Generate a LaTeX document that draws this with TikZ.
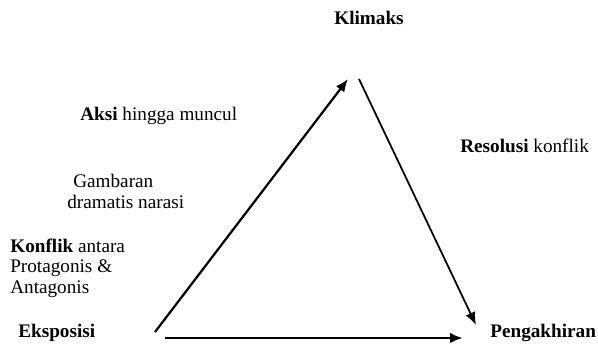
\documentclass[tikz,border=0pt]{standalone}
\usepackage{fontspec}
\setmainfont{Liberation Serif}
\usetikzlibrary{arrows.meta}
\begin{document}
\begin{tikzpicture}[x=0.625pt,y=-0.625pt,
  lbl/.style={inner sep=0pt,anchor=base west,font=\fontsize{12pt}{14pt}\selectfont},
  arr/.style={-{Latex[length=8pt,width=6.5pt]}}]
\useasboundingbox (0,0) rectangle (598,345);
% labels
\node[lbl] (klimaks) at (334,24) {\textbf{Klimaks}};
\node[lbl] (aksi) at (80,120) {\textbf{Aksi} hingga muncul};
\node[lbl] (resolusi) at (460,152) {\textbf{Resolusi} konflik};
\node[lbl] (gambaran1) at (73,187) {Gambaran};
\node[lbl] (gambaran2) at (67,208) {dramatis narasi};
\node[lbl] (konflik1) at (10,252) {\textbf{Konflik} antara};
\node[lbl] (konflik2) at (10,272.5) {Protagonis \&};
\node[lbl] (konflik3) at (10,293) {Antagonis};
\node[lbl] (eksposisi) at (18,337) {\textbf{Eksposisi}};
\node[lbl] (pengakhiran) at (490,337) {\textbf{Pengakhiran}};
% arrow end points
\coordinate (a1s) at (155,332);
\coordinate (a1e) at (348,79);
\coordinate (a2s) at (359,79);
\coordinate (a2e) at (476,325);
\coordinate (a3s) at (165,338);
\coordinate (a3e) at (463,338);
\draw[arr,line width=1.4pt] (a1s) -- (a1e);
\draw[arr,line width=1.1pt] (a2s) -- (a2e);
\draw[arr,line width=1.8pt] (a3s) -- (a3e);
\end{tikzpicture}
\end{document}
